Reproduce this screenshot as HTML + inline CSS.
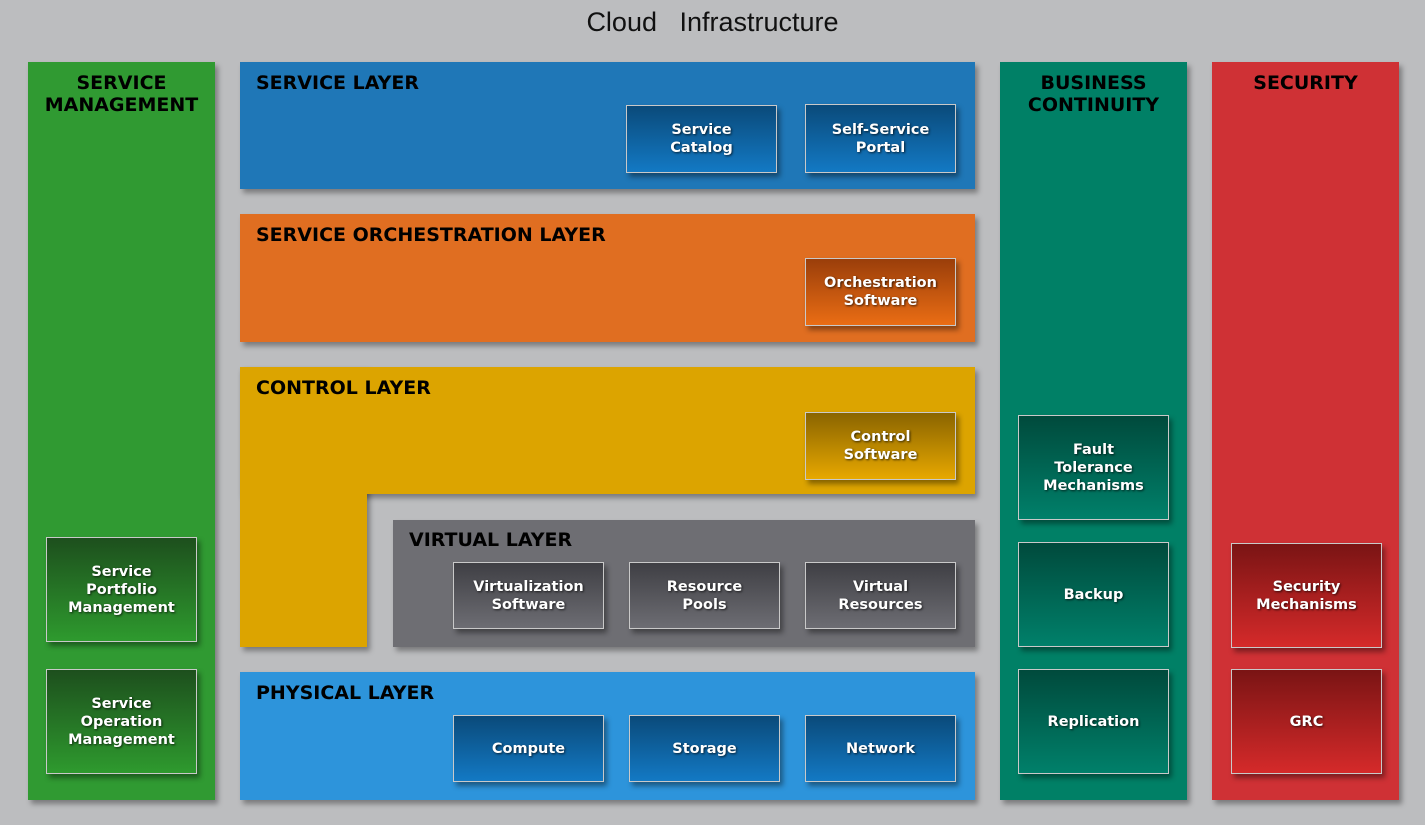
<!DOCTYPE html>
<html><head><meta charset="utf-8"><style>
body{margin:0;width:1425px;height:825px;background:#bcbdbf;position:relative;overflow:hidden;font-family:"DejaVu Sans","Liberation Sans",sans-serif}
.a{position:absolute;box-shadow:3px 4px 5px rgba(0,0,0,.35)}
.h{position:absolute;font-weight:bold;font-size:19px;color:#000;white-space:nowrap}
.hc{text-align:center;line-height:22px}
.b{position:absolute;border:1px solid #c9c9c9;box-sizing:border-box;display:flex;align-items:center;justify-content:center;text-align:center;color:#fff;font-weight:bold;font-size:14.5px;line-height:18px;text-shadow:1px 1px 2px rgba(0,0,0,.7);box-shadow:3px 4px 5px rgba(0,0,0,.4)}
.bl{background:linear-gradient(#0a4a7a,#1379c4)}
.or{background:linear-gradient(#9a3e0a,#ea6d14)}
.ye{background:linear-gradient(#8a6400,#e7a800)}
.gr{background:linear-gradient(#3f3f44,#6d6d73)}
.gn{background:linear-gradient(#1d4f1d,#2e9a2e)}
.te{background:linear-gradient(#004a3c,#00806a)}
.re{background:linear-gradient(#7a1414,#d52a2a)}
</style></head><body>
<div style="position:absolute;left:0;width:1425px;top:7px;text-align:center;font-family:'Liberation Sans',sans-serif;font-size:27px;color:#111">Cloud&nbsp;&nbsp; Infrastructure</div>

<div class="a" style="left:28px;top:62px;width:187px;height:738px;background:#309a32"></div>
<div class="h hc" style="left:28px;width:187px;top:72px">SERVICE<br>MANAGEMENT</div>

<div class="a" style="left:240px;top:62px;width:735px;height:127px;background:#1f77b7"></div>
<div class="h" style="left:256px;top:72px">SERVICE LAYER</div>

<div class="a" style="left:240px;top:214px;width:735px;height:128px;background:#e06e21"></div>
<div class="h" style="left:256px;top:224px">SERVICE ORCHESTRATION LAYER</div>

<div class="a" style="left:240px;top:367px;width:127px;height:280px;background:#dca400"></div>
<div class="a" style="left:240px;top:367px;width:735px;height:127px;background:#dca400"></div>
<div style="position:absolute;left:240px;top:367px;width:127px;height:280px;background:#dca400"></div>
<div class="h" style="left:256px;top:377px">CONTROL LAYER</div>

<div class="a" style="left:393px;top:520px;width:582px;height:127px;background:#6e6e73"></div>
<div class="h" style="left:409px;top:529px">VIRTUAL LAYER</div>

<div class="a" style="left:240px;top:672px;width:735px;height:128px;background:#2d94db"></div>
<div class="h" style="left:256px;top:682px">PHYSICAL LAYER</div>

<div class="a" style="left:1000px;top:62px;width:187px;height:738px;background:#008066"></div>
<div class="h hc" style="left:1000px;width:187px;top:72px">BUSINESS<br>CONTINUITY</div>

<div class="a" style="left:1212px;top:62px;width:187px;height:738px;background:#cf3135"></div>
<div class="h hc" style="left:1212px;width:187px;top:72px">SECURITY</div>

<div class="b bl" style="left:626px;top:105px;width:151px;height:68px">Service<br>Catalog</div>
<div class="b bl" style="left:805px;top:104px;width:151px;height:69px">Self-Service<br>Portal</div>
<div class="b or" style="left:805px;top:258px;width:151px;height:68px">Orchestration<br>Software</div>
<div class="b ye" style="left:805px;top:412px;width:151px;height:68px">Control<br>Software</div>
<div class="b gr" style="left:453px;top:562px;width:151px;height:67px">Virtualization<br>Software</div>
<div class="b gr" style="left:629px;top:562px;width:151px;height:67px">Resource<br>Pools</div>
<div class="b gr" style="left:805px;top:562px;width:151px;height:67px">Virtual<br>Resources</div>
<div class="b bl" style="left:453px;top:715px;width:151px;height:67px">Compute</div>
<div class="b bl" style="left:629px;top:715px;width:151px;height:67px">Storage</div>
<div class="b bl" style="left:805px;top:715px;width:151px;height:67px">Network</div>

<div class="b gn" style="left:46px;top:537px;width:151px;height:105px">Service<br>Portfolio<br>Management</div>
<div class="b gn" style="left:46px;top:669px;width:151px;height:105px">Service<br>Operation<br>Management</div>

<div class="b te" style="left:1018px;top:415px;width:151px;height:105px">Fault<br>Tolerance<br>Mechanisms</div>
<div class="b te" style="left:1018px;top:542px;width:151px;height:105px">Backup</div>
<div class="b te" style="left:1018px;top:669px;width:151px;height:105px">Replication</div>

<div class="b re" style="left:1231px;top:543px;width:151px;height:105px">Security<br>Mechanisms</div>
<div class="b re" style="left:1231px;top:669px;width:151px;height:105px">GRC</div>
</body></html>
